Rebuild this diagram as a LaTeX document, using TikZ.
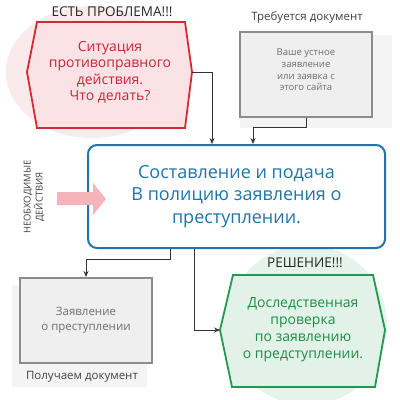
\documentclass[tikz,border=0pt]{standalone}
\usepackage{fontspec}
\setmainfont{Open Sans}
\usetikzlibrary{arrows.meta}
\definecolor{redc}{HTML}{D42A36}
\definecolor{redtxt}{HTML}{C8283A}
\definecolor{pinkfill}{HTML}{FBE2E5}
\definecolor{pinkbg}{HTML}{FBEAEC}
\definecolor{greenc}{HTML}{22994F}
\definecolor{greentxt}{HTML}{1E8C47}
\definecolor{greenfill}{HTML}{E2F2E8}
\definecolor{greenbg}{HTML}{E6F3EC}
\definecolor{bluec}{HTML}{1F75AA}
\definecolor{graybd}{HTML}{8C8C8C}
\definecolor{grayfill}{HTML}{EFEFEF}
\definecolor{graypanel}{HTML}{F4F4F4}
\definecolor{graytxt}{HTML}{6E6E6E}
\definecolor{arrowpink}{HTML}{F5B4BA}
\begin{document}
\begin{tikzpicture}[x=1pt,y=-1pt,
  conn/.style={draw=black!80, line width=0.9pt, -{Stealth[length=6pt,width=5pt]}},
  docbox/.style={draw=graybd, line width=2pt, fill=grayfill, inner sep=0pt, text=graytxt, align=center},
  titletxt/.style={font=\fontsize{13.5}{15}\selectfont, text=black!85},
  captxt/.style={font=\fontsize{11.5}{13}\selectfont, text=black!75}
]
\useasboundingbox (0,0) rectangle (400,400);
\fill[white] (0,0) rectangle (400,400);
% background discs
\fill[pinkbg] (92,72) ellipse [x radius=86, y radius=66];
\fill[greenbg] (307,325) circle (80);
% gray panels
\fill[graypanel] (240,35) rectangle (392,128);
\fill[graypanel] (12,285) rectangle (147,387);
% red hexagon
\coordinate (probR) at (192,72);
\coordinate (probL) at (27,72);
\draw[redc, line width=1.8pt, fill=pinkfill, line join=miter]
  (37,22) -- (185,22) -- (probR) -- (185,128) -- (37,128) -- (probL) -- cycle;
\node[text=redtxt, align=center, font=\fontsize{14}{16.5}\selectfont] (prob) at (110,72)
  {Ситуация\\противоправного\\действия.\\Что делать?};
\node[titletxt] (probtitle) at (112,12) {ЕСТЬ ПРОБЛЕМА!!!};
% top right doc
\node[docbox, minimum width=132pt, minimum height=85pt] (doc1) at (306,74.5) {};
\node[text=graytxt, align=center, font=\fontsize{9.5}{11.7}\selectfont] (doc1t) at (306,70)
  {Ваше устное\\заявление\\или заявка с\\этого сайта};
\node[captxt] (doc1title) at (307,17) {Требуется документ};
% main box
\node[draw=bluec, line width=2pt, rounded corners=9pt, fill=white, minimum width=297pt, minimum height=103pt,
  text=bluec, align=center, font=\fontsize{18}{22.5}\selectfont] (main) at (236.5,196.5)
  {Составление и подача\\В полицию заявления о\\преступлении.};
% pink arrow
\fill[arrowpink] (57,192) -- (93,192) -- (93,183) -- (106,199) -- (93,215) -- (93,205) -- (57,205) -- cycle;
\node[rotate=90, align=center, text=black!75, font=\fontsize{9.5}{12}\selectfont] (need) at (34,197)
  {НЕОБХОДИМЫЕ\\ДЕЙСТВИЯ};
% lower left doc
\node[docbox, minimum width=132pt, minimum height=85pt, font=\fontsize{11.5}{15}\selectfont] (doc2) at (86,320.5)
  {Заявление\\о преступлении};
\node[captxt] (doc2title) at (82,377) {Получаем документ};
% green hexagon
\coordinate (solL) at (220,330);
\draw[greenc, line width=1.8pt, fill=greenfill, line join=miter]
  (233,275) -- (373,275) -- (385,330) -- (375,387) -- (232,387) -- (solL) -- cycle;
\node[text=greentxt, align=center, font=\fontsize{14}{17}\selectfont] (sol) at (303,330)
  {Доследственная\\проверка\\по заявлению\\о предступлении.};
\node[titletxt] (soltitle) at (305,263) {РЕШЕНИЕ!!!};
% connectors
\draw[conn] (probR) -| (main.north -| 212,0);
\draw[conn] (doc1.south) |- ++(0,9) -| (main.north -| 253,0);
\draw[conn] (main.south -| 170,0) |- ++(0,10) -| (doc2.north);
\draw[conn] (main.south -| 194,0) |- (solL);
\end{tikzpicture}
\end{document}
